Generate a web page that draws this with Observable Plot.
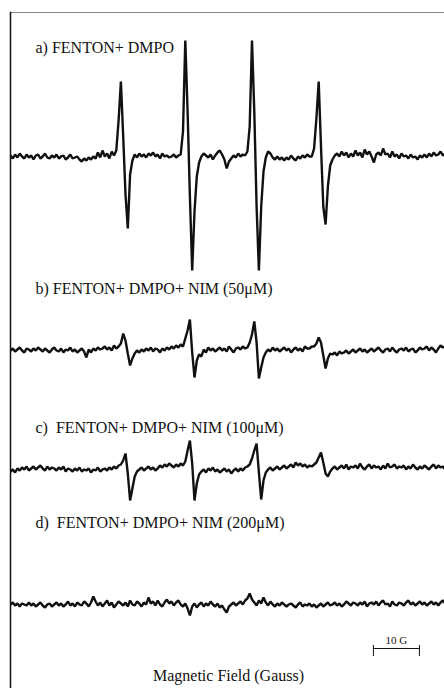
<!DOCTYPE html>
<html><head><meta charset="utf-8">
<script src="https://cdn.jsdelivr.net/npm/d3@7"></script>
<script src="https://cdn.jsdelivr.net/npm/@observablehq/plot@0.6"></script>
<style>body{margin:0;background:#fff}</style>
</head><body><div id="chart"></div>
<script>
// Field sampling: 0.5 G steps (relative field, gauss)
const fieldStep = 0.5;

// Signal amplitudes (arbitrary units, up = positive), one per 0.5 G step
const traceA = [
  1,-2,2,-1,3,0,-2,2,-1,1,
  -3,1,2,-2,0,3,-1,-2,1,-1,
  2,-2,0,1,-3,-1,2,-2,-1,0,
  -3,-5,-2,-4,-1,-3,0,-2,4,-1,
  6,0,3,-2,5,1,6,36,75,20,
  -38,-72,-18,-4,2,-1,3,0,2,-1,
  3,1,4,0,2,-2,3,0,1,-1,
  0,2,-1,1,2,25,116,45,-40,-114,
  -55,-20,-6,0,3,1,-1,2,-3,1,
  4,6,2,-3,-12,-5,-2,1,-1,3,
  0,2,1,5,30,116,45,-50,-114,-50,
  -15,-1,5,3,-1,-3,0,-3,-1,-4,
  -1,-3,1,-2,-4,0,-2,1,-1,2,
  0,0,8,38,75,10,-50,-68,-30,-9,
  -3,1,3,0,5,1,4,-1,3,0,
  6,1,4,-1,7,2,5,0,-6,2,
  4,1,8,2,3,-1,5,0,2,-2,
  3,0,1,-2,2,-1,0,-3,1,-1,
  2,-1,3,0,4,1,2,5,1,3
];
const traceB = [
  0,2,-1,1,3,0,-2,2,1,-1,
  2,0,3,1,-1,2,0,-2,1,3,
  0,-1,2,-2,1,0,3,-1,1,-2,
  0,2,-1,-7,1,-2,2,0,3,1,
  2,4,1,3,0,5,2,4,7,17,
  10,-3,-15,-8,-3,0,-2,1,-1,2,
  0,3,-1,2,1,-2,2,0,3,1,
  4,2,5,3,6,4,12,20,31,-2,
  -27,-10,-4,-6,1,-2,3,0,2,-1,
  1,3,0,2,-1,4,1,-2,2,3,
  1,4,2,3,8,16,29,8,-28,-17,
  -7,-2,1,-1,3,0,2,-1,1,3,
  0,2,-2,1,3,0,2,-1,4,2,
  2,4,4,7,13,8,-5,-18,-8,-3,
  -4,-2,-5,-1,-3,-2,0,-3,-1,1,
  -2,0,2,-1,1,-2,0,2,-1,1,
  3,0,-2,1,2,-1,3,0,-2,1,
  2,0,3,-1,1,2,-2,0,3,1,
  2,4,0,3,1,-2,2,5,3,4
];
const traceC = [
  -3,-1,-4,0,-2,1,-1,2,-2,0,
  2,-1,1,3,0,-2,2,-1,1,0,
  -2,1,-1,2,-3,0,-1,-3,0,-2,
  1,-3,-1,-2,0,-4,-1,-2,1,-3,
  -1,0,-2,1,-1,2,0,3,4,8,
  15,-5,-32,-20,-8,-3,-1,1,-2,0,
  2,-1,1,-2,0,3,1,4,2,5,
  3,1,4,2,5,3,7,18,28,5,
  -32,-15,-6,-3,-1,-4,0,-2,1,-3,
  -1,-4,-2,0,-3,-1,-5,-2,0,-3,
  0,-2,1,2,4,10,18,25,-4,-31,
  -12,-4,-1,1,-2,0,2,-1,1,3,
  0,2,4,1,6,3,5,2,4,1,
  3,2,4,6,11,16,6,-5,-8,-3,
  0,2,-1,1,3,0,4,-1,2,1,
  3,0,5,1,-1,2,4,0,3,1,
  2,-1,3,0,5,1,2,4,0,2,
  1,3,-1,2,0,4,1,-1,2,0,
  3,1,-1,2,4,0,3,1,2,-1
];
const traceD = [
  0,2,-1,1,-2,1,0,-1,2,-1,
  1,-2,0,2,-1,-3,0,1,-2,0,
  2,-1,1,-2,0,3,-1,1,-2,2,
  0,-1,3,1,-2,2,8,3,-1,2,
  -2,1,4,-1,2,-3,0,3,1,-1,
  2,-2,4,0,-1,3,1,-2,2,0,
  7,1,3,-1,4,0,-2,2,5,1,
  3,-1,2,4,0,-2,1,-4,-11,-2,
  1,-3,0,2,-2,1,-1,3,0,-2,
  1,-3,-1,-5,-8,-2,0,2,-1,1,
  3,0,4,6,11,5,2,-1,4,1,
  7,2,-1,3,0,-2,1,-1,2,0,
  -2,0,1,-1,-3,0,2,-2,0,-1,
  1,-2,0,-3,-1,1,-2,0,2,-1,
  0,2,-1,1,-2,0,3,1,-1,2,
  1,-1,2,0,3,-2,1,2,0,3,
  -1,2,4,0,1,-2,3,0,-1,2,
  1,-1,2,4,0,2,-1,1,3,0,
  2,-1,1,3,0,2,-1,2,4,1
];

const traceLabels = [
  "a) FENTON+ DMPO",
  "b) FENTON+ DMPO+ NIM (50\u03bcM)",
  "c)\u00a0 FENTON+ DMPO+ NIM (100\u03bcM)",
  "d)\u00a0 FENTON+ DMPO+ NIM (200\u03bcM)"
];
const xLabel = "Magnetic Field (Gauss)";
const scaleBarLabel = "10 G";
const scaleBarLength = 10; // gauss
const scaleBarStart = 78.9; // gauss

// layout (pixels)
const baselines = [156, 350, 468, 604];
const labelDy = [40, 281, 420, 515];
const barY = 648;
const serif = "'Liberation Serif', 'Times New Roman', serif";

const traces = [traceA, traceB, traceC, traceD];
const rows = traces.flatMap((vals, k) =>
  vals.map((v, i) => ({trace: k, field: i * fieldStep, y: v - baselines[k]})));

const chart = Plot.plot({
  width: 444, height: 688,
  marginLeft: 10, marginRight: 0, marginTop: 12, marginBottom: 0,
  x: {domain: [0, 94.35], axis: null},
  y: {domain: [-688, -12], axis: null},
  style: {background: "white", fontFamily: serif, color: "#111"},
  marks: [
    Plot.frame({anchor: "top", stroke: "#8a8a8a", strokeWidth: 1}),
    Plot.frame({anchor: "left", stroke: "#111", strokeWidth: 1.5}),
    Plot.line(rows, {x: "field", y: "y", z: "trace", stroke: "#111", strokeWidth: 2.4,
      strokeLinejoin: "miter", clip: true}),
    ...traceLabels.map((t, k) => Plot.text([t], {
      frameAnchor: "top-left", dx: 25, dy: labelDy[k], text: d => d, fontFamily: serif,
      textAnchor: "start", lineAnchor: "bottom", fontSize: 16, fill: "#111"
    })),
    Plot.text([xLabel], {frameAnchor: "bottom", dx: 1, dy: -8, text: d => d, fontFamily: serif,
      lineAnchor: "bottom", fontSize: 16, fill: "#111"}),
    Plot.ruleY([-barY], {x1: scaleBarStart, x2: scaleBarStart + scaleBarLength, stroke: "#111", strokeWidth: 1}),
    Plot.ruleX([scaleBarStart, scaleBarStart + scaleBarLength], {y1: -(barY - 3), y2: -(barY + 8), stroke: "#111", strokeWidth: 1}),
    Plot.text([scaleBarLabel], {x: scaleBarStart + scaleBarLength / 2, y: -barY, dy: -5, text: d => d,
      fontFamily: serif, lineAnchor: "bottom", fontSize: 11, fill: "#111"})
  ]
});
document.getElementById("chart").append(chart);
</script>
</body></html>
